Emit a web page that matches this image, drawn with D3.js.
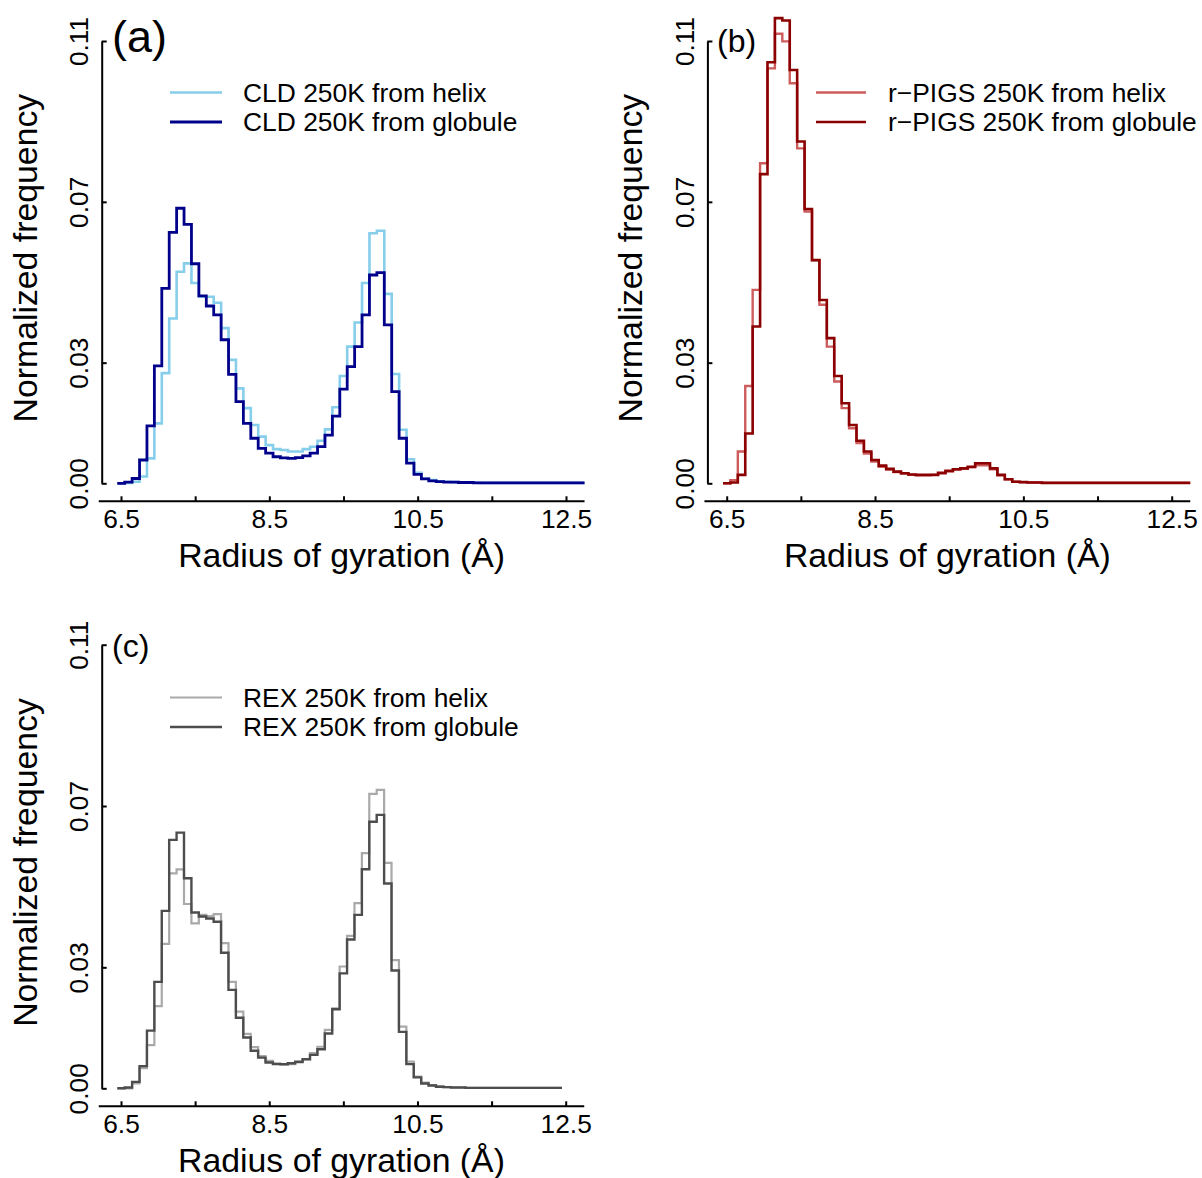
<!DOCTYPE html>
<html>
<head>
<meta charset="utf-8">
<script src="https://cdn.jsdelivr.net/npm/d3@7/dist/d3.min.js"></script>
<style>
  html, body { margin: 0; padding: 0; background: #ffffff; }
  svg { display: block; }
</style>
</head>
<body>
<div id="chart"></div>
<script>
// ---------------- DATA ----------------
// bin centres (Å), bin width 0.1
const radiusAB = [6.5,6.6,6.7,6.8,6.9,7.0,7.1,7.2,7.3,7.4,7.5,7.6,7.7,7.8,7.9,
  8.0,8.1,8.2,8.3,8.4,8.5,8.6,8.7,8.8,8.9,9.0,9.1,9.2,9.3,9.4,9.5,9.6,9.7,9.8,9.9,
  10.0,10.1,10.2,10.3,10.4,10.5,10.6,10.7,10.8,10.9,11.0,11.1,11.2,11.3,11.4,11.5,11.6,11.7,11.8,11.9,
  12.0,12.1,12.2,12.3,12.4,12.5,12.6,12.7];
const radiusC = [6.5,6.6,6.7,6.8,6.9,7.0,7.1,7.2,7.3,7.4,7.5,7.6,7.7,7.8,7.9,
  8.0,8.1,8.2,8.3,8.4,8.5,8.6,8.7,8.8,8.9,9.0,9.1,9.2,9.3,9.4,9.5,9.6,9.7,9.8,9.9,
  10.0,10.1,10.2,10.3,10.4,10.5,10.6,10.7,10.8,10.9,11.0,11.1,11.2,11.3,11.4,11.5,11.6,11.7,11.8,11.9,
  12.0,12.1,12.2,12.3,12.4];

// (a) CLD
const cldHelix = [0.0000,0.0001,0.0004,0.0017,0.0062,
  0.0149,0.0274,0.0410,0.0526,0.0547,0.0498,0.0464,0.0464,0.0449,0.0386,
  0.0307,0.0236,0.0187,0.0145,0.0116,0.0095,0.0085,0.0083,0.0079,0.0079,
  0.0085,0.0091,0.0106,0.0134,0.0189,0.0267,0.0340,0.0400,0.0498,0.0622,
  0.0628,0.0471,0.0272,0.0133,0.0060,0.0026,0.0012,0.0008,0.0005,0.0004,
  0.0003,0.0002,0.0002,0.0002,0.0001,0.0001,0.0001,0.0001,0.0001,0.0001,
  0.0001,0.0001,0.0001,0.0001,0.0001,0.0001,0.0001,0.0001];
const cldGlobule = [0.0000,0.0003,0.0012,0.0058,0.0143,
  0.0292,0.0485,0.0624,0.0684,0.0644,0.0546,0.0466,0.0441,0.0419,0.0357,
  0.0271,0.0203,0.0149,0.0112,0.0087,0.0075,0.0066,0.0063,0.0062,0.0064,
  0.0068,0.0075,0.0091,0.0120,0.0167,0.0234,0.0290,0.0340,0.0419,0.0518,
  0.0524,0.0394,0.0228,0.0112,0.0050,0.0022,0.0011,0.0006,0.0004,0.0003,
  0.0003,0.0002,0.0002,0.0001,0.0001,0.0001,0.0001,0.0001,0.0001,0.0001,
  0.0001,0.0001,0.0001,0.0001,0.0001,0.0001,0.0001,0.0001];

// (b) r-PIGS
const pigsHelix = [0.0000,0.0008,0.0079,0.0242,0.0481,
  0.0796,0.1032,0.1118,0.1099,0.0995,0.0833,0.0676,0.0555,0.0444,0.0340,
  0.0253,0.0187,0.0137,0.0100,0.0074,0.0054,0.0041,0.0034,0.0028,0.0024,
  0.0021,0.0020,0.0020,0.0021,0.0025,0.0030,0.0034,0.0036,0.0040,0.0045,
  0.0045,0.0035,0.0020,0.0010,0.0004,0.0003,0.0002,0.0002,0.0001,0.0001,
  0.0001,0.0001,0.0001,0.0001,0.0001,0.0001,0.0001,0.0001,0.0001,0.0001,
  0.0001,0.0001,0.0001,0.0001,0.0001,0.0001,0.0001,0.0001];
const pigsGlobule = [0.0000,0.0002,0.0021,0.0124,0.0390,
  0.0769,0.1047,0.1157,0.1151,0.1028,0.0850,0.0682,0.0555,0.0456,0.0361,
  0.0267,0.0199,0.0145,0.0106,0.0079,0.0058,0.0044,0.0036,0.0029,0.0025,
  0.0022,0.0021,0.0021,0.0021,0.0026,0.0031,0.0035,0.0037,0.0041,0.0050,
  0.0050,0.0037,0.0021,0.0010,0.0004,0.0003,0.0002,0.0002,0.0001,0.0001,
  0.0001,0.0001,0.0001,0.0001,0.0001,0.0001,0.0001,0.0001,0.0001,0.0001,
  0.0001,0.0001,0.0001,0.0001,0.0001,0.0001,0.0001,0.0001];

// (c) REX
const rexHelix = [0.0000,0.0000,0.0012,0.0050,0.0107,
  0.0204,0.0358,0.0533,0.0543,0.0457,0.0409,0.0430,0.0427,0.0432,0.0360,
  0.0264,0.0190,0.0135,0.0102,0.0080,0.0068,0.0062,0.0058,0.0060,0.0064,
  0.0072,0.0087,0.0103,0.0145,0.0198,0.0302,0.0378,0.0459,0.0583,0.0730,
  0.0740,0.0559,0.0318,0.0153,0.0066,0.0029,0.0014,0.0008,0.0005,0.0003,
  0.0002,0.0002,0.0001,0.0001,0.0001,0.0001,0.0001,0.0001,0.0001,0.0001,
  0.0001,0.0001,0.0001,0.0001,0.0001];
const rexGlobule = [0.0000,0.0002,0.0016,0.0055,0.0143,
  0.0264,0.0440,0.0616,0.0634,0.0521,0.0436,0.0426,0.0421,0.0413,0.0336,
  0.0244,0.0175,0.0126,0.0093,0.0076,0.0064,0.0060,0.0060,0.0062,0.0066,
  0.0072,0.0083,0.0097,0.0136,0.0196,0.0285,0.0369,0.0430,0.0543,0.0661,
  0.0678,0.0508,0.0292,0.0140,0.0060,0.0027,0.0012,0.0007,0.0004,0.0003,
  0.0002,0.0002,0.0001,0.0001,0.0001,0.0001,0.0001,0.0001,0.0001,0.0001,
  0.0001,0.0001,0.0001,0.0001,0.0001];

// axes
const xTicks = [6.5, 7.5, 8.5, 9.5, 10.5, 11.5, 12.5];
const xTickLabels = ["6.5", "", "8.5", "", "10.5", "", "12.5"];
const yTicks = [0, 0.03, 0.07, 0.11];
const yTickLabels = ["0.00", "0.03", "0.07", "0.11"];
const xDomain = [6.5, 12.5];
const xAxisExtent = [6.2, 12.75];
const yDomain = [0, 0.11];
const xTitle = "Radius of gyration (Å)";
const yTitle = "Normalized frequency";

const panelLabels = ["(a)", "(b)", "(c)"];
const legendNames = [
  ["CLD 250K from helix", "CLD 250K from globule"],
  ["r\u2212PIGS 250K from helix", "r\u2212PIGS 250K from globule"],
  ["REX 250K from helix", "REX 250K from globule"]
];
const seriesColors = [
  ["#87CEEB", "#00008B"],
  ["#CD5C5C", "#8B0000"],
  ["#A9A9A9", "#4D4D4D"]
];

// ---------------- LAYOUT ----------------
const W = 1202, H = 1178;
const FONT = "'Liberation Sans', Arial, Helvetica, sans-serif";

const layout = [
  { xr: [121, 566],     y0: 483.3,  yTop: 41.0,  lx: [170, 222], tx: 243, ly: [92.5, 122],
    labelX: 112, labelY: 52, labelSize: 45, radius: radiusAB, data: [cldHelix, cldGlobule], sw: [2.6, 2.8] },
  { xr: [726.7, 1171.7], y0: 483.3, yTop: 41.0,  lx: [816, 866], tx: 888, ly: [92.5, 122],
    labelX: 717, labelY: 52, labelSize: 32, radius: radiusAB, data: [pigsHelix, pigsGlobule], sw: [2.4, 2.6] },
  { xr: [121, 565.7],   y0: 1088.3, yTop: 644.7, lx: [170, 222], tx: 243, ly: [697.5, 727],
    labelX: 112, labelY: 657, labelSize: 32, radius: radiusC, data: [rexHelix, rexGlobule], sw: [2.2, 2.4] }
];

const svg = d3.select("#chart").append("svg")
  .attr("width", W).attr("height", H)
  .attr("viewBox", `0 0 ${W} ${H}`);
svg.append("rect").attr("width", W).attr("height", H).attr("fill", "#ffffff");

layout.forEach((p, pi) => {
  const x = d3.scaleLinear().domain(xDomain).range(p.xr);
  const y = d3.scaleLinear().domain(yDomain).range([p.y0, p.yTop]);
  const g = svg.append("g");

  const yAxisX = p.xr[0] - 19.3;
  const xAxisY = p.y0 + 18;

  // X axis (ticks pointing up/inward)
  const xAxis = d3.axisBottom(x).tickValues(xTicks).tickSizeInner(-5).tickSizeOuter(0)
    .tickFormat((d, i) => xTickLabels[i]);
  const gx = g.append("g").attr("transform", `translate(0,${xAxisY})`).call(xAxis);
  gx.select(".domain").remove();
  gx.append("line")
    .attr("x1", x(xAxisExtent[0])).attr("x2", x(xAxisExtent[1]))
    .attr("y1", 0).attr("y2", 0)
    .attr("stroke", "#000").attr("stroke-width", 2);
  gx.selectAll(".tick line").attr("stroke", "#000").attr("stroke-width", 2);
  gx.selectAll(".tick text")
    .attr("y", 27).attr("dy", null)
    .attr("font-family", FONT).attr("font-size", 26.3).attr("fill", "#000");

  // Y axis (ticks pointing right/inward)
  const yAxis = d3.axisLeft(y).tickValues(yTicks).tickSizeInner(-5).tickSizeOuter(0)
    .tickFormat((d, i) => yTickLabels[i]);
  const gy = g.append("g").attr("transform", `translate(${yAxisX},0)`).call(yAxis);
  gy.select(".domain").attr("stroke", "#000").attr("stroke-width", 2);
  gy.selectAll(".tick line").attr("stroke", "#000").attr("stroke-width", 2);
  gy.selectAll(".tick text")
    .attr("x", null).attr("dy", null)
    .attr("transform", "translate(-13.5,0) rotate(-90)")
    .attr("text-anchor", "middle")
    .attr("font-family", FONT).attr("font-size", 26.3).attr("fill", "#000");

  // Titles
  g.append("text")
    .attr("x", (x(xAxisExtent[0]) + x(xAxisExtent[1])) / 2)
    .attr("y", xAxisY + 66)
    .attr("text-anchor", "middle")
    .attr("font-family", FONT).attr("font-size", 33.8).attr("fill", "#000")
    .text(xTitle);
  g.append("text")
    .attr("transform", `translate(${yAxisX - 65},${(p.y0 + p.yTop) / 2 - 4}) rotate(-90)`)
    .attr("text-anchor", "middle")
    .attr("font-family", FONT).attr("font-size", 33.8).attr("fill", "#000")
    .text(yTitle);

  // Panel label
  g.append("text")
    .attr("x", p.labelX).attr("y", p.labelY)
    .attr("font-family", FONT).attr("font-size", p.labelSize).attr("fill", "#000")
    .text(panelLabels[pi]);

  // Step lines (histogram outlines)
  const half = (p.radius[1] - p.radius[0]) / 2;
  const line = d3.line()
    .x(d => x(d[0])).y(d => y(d[1]))
    .curve(d3.curveStepAfter);
  p.data.forEach((vals, si) => {
    const pts = p.radius.map((r, i) => [r - half, vals[i]]);
    pts.push([p.radius[p.radius.length - 1] + half, vals[vals.length - 1]]);
    g.append("path")
      .datum(pts)
      .attr("d", line)
      .attr("fill", "none")
      .attr("stroke", seriesColors[pi][si])
      .attr("stroke-width", p.sw[si])
      .attr("stroke-linejoin", "miter");
  });

  // Legend
  legendNames[pi].forEach((name, si) => {
    g.append("line")
      .attr("x1", p.lx[0]).attr("x2", p.lx[1])
      .attr("y1", p.ly[si]).attr("y2", p.ly[si])
      .attr("stroke", seriesColors[pi][si]).attr("stroke-width", p.sw[si]);
    g.append("text")
      .attr("x", p.tx).attr("y", p.ly[si] + 9.3)
      .attr("font-family", FONT).attr("font-size", 26.4).attr("fill", "#000")
      .text(name);
  });
});
</script>
</body>
</html>
